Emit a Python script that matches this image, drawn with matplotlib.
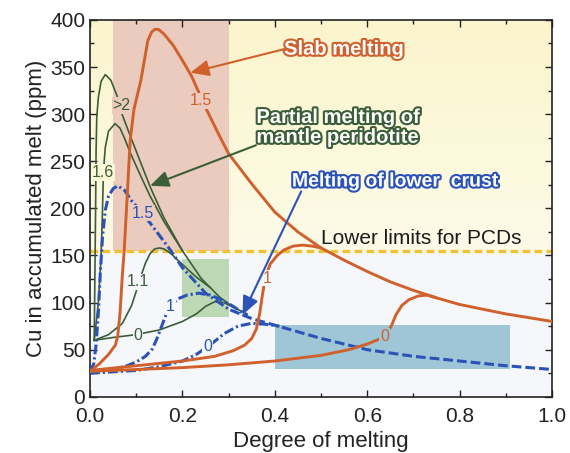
import matplotlib
matplotlib.use("Agg")
import matplotlib.pyplot as plt
import matplotlib.patheffects as pe
from matplotlib.colors import LinearSegmentedColormap
import numpy as np

plt.rcParams["font.family"] = ["Liberation Sans", "DejaVu Sans"]

ORANGE = "#d0612c"
GREEN = "#3b5e38"
BLUE = "#2b52b6"
GOLD = "#f0c232"
PINK_BG = "#eacbbd"
GREEN_BG = "#bcd8b4"
BLUE_BG = "#9fc6d6"
LOW_BG = "#f5f7fb"
HIGH_BG = "#fbf8d8"

# slab melting (orange)
slab15_x = [0, 0.02, 0.04, 0.055, 0.06, 0.065, 0.07, 0.074, 0.08, 0.087, 0.095, 0.11,
            0.125, 0.133, 0.14, 0.148, 0.16, 0.18, 0.2, 0.22, 0.25, 0.28, 0.3, 0.35, 0.4,
            0.45, 0.5, 0.55, 0.6, 0.65, 0.7, 0.75, 0.8, 0.85, 0.9, 0.95, 1.0]
slab15_y = [27, 35, 45, 55, 65, 90, 130, 156, 210, 273, 305, 336,
            378, 387, 390, 390, 385, 373, 357, 340, 307, 277, 258, 226, 196,
            175, 158, 145, 133, 122, 113, 105, 98, 93, 88, 84, 80]
slab1_x = [0, 0.1, 0.2, 0.27, 0.31, 0.335, 0.35, 0.36, 0.367, 0.373, 0.38, 0.39,
           0.405, 0.42, 0.44, 0.46, 0.48, 0.5]
slab1_y = [28, 33, 38, 43, 49, 55, 62, 72, 88, 108, 128, 141,
           150, 156, 160, 161, 160, 158]
slab0_x = [0, 0.1, 0.2, 0.3, 0.4, 0.5, 0.56, 0.6, 0.625, 0.64, 0.652, 0.662,
           0.675, 0.69, 0.71, 0.73, 0.75]
slab0_y = [27, 29, 31, 34, 38, 44, 50, 56, 61, 66, 75, 87,
           97, 103, 107, 108, 105]

# partial melting of mantle peridotite (green)
mant2_x = [0.009, 0.012, 0.013, 0.0145, 0.018, 0.024, 0.033, 0.045, 0.058, 0.07,
           0.087, 0.11, 0.13, 0.16, 0.2, 0.24, 0.26, 0.28, 0.31, 0.34]
mant2_y = [60, 200, 260, 297, 318, 335, 342, 336, 320, 299,
           277, 248, 223, 190, 155, 126, 116, 106, 95, 88]
mant16_x = [0.009, 0.018, 0.024, 0.027, 0.029, 0.033, 0.04, 0.054, 0.065, 0.075,
            0.087, 0.11, 0.13, 0.16, 0.2]
mant16_y = [60, 100, 150, 200, 240, 265, 282, 290, 285, 274,
            259, 234, 213, 186, 155]
mant11_x = [0.009, 0.04, 0.07, 0.09, 0.1, 0.11, 0.12, 0.13, 0.14, 0.15, 0.16,
            0.175, 0.19, 0.21, 0.23, 0.26]
mant11_y = [60, 66, 78, 97, 112, 128, 142, 152, 157, 158, 157,
            152, 145, 136, 127, 116]
mant0_x = [0.009, 0.05, 0.1, 0.15, 0.2, 0.23, 0.25, 0.27, 0.29, 0.31]
mant0_y = [60, 63, 66, 71, 80, 88, 96, 101, 100, 95]

# melting of lower crust (blue)
crust15_x = [0.0, 0.008, 0.013, 0.018, 0.022, 0.027, 0.033, 0.04, 0.05, 0.06, 0.075,
             0.09, 0.115, 0.14, 0.175, 0.2, 0.25, 0.3, 0.33]
crust15_y = [27, 35, 55, 90, 130, 170, 198, 213, 221, 224, 219,
             208, 194, 178, 155, 137, 110, 93, 87]
crust1_x = [0.0, 0.05, 0.08, 0.1, 0.12, 0.135, 0.145, 0.155, 0.165, 0.175, 0.19,
            0.21, 0.235, 0.26, 0.28, 0.31, 0.34]
crust1_y = [26, 29, 33, 37, 43, 51, 62, 75, 88, 97, 104,
            108, 110, 108, 104, 96, 86]
crust0_x = [0.0, 0.1, 0.15, 0.2, 0.23, 0.26, 0.29, 0.32, 0.35, 0.38, 0.41]
crust0_y = [25, 28, 32, 38, 45, 55, 67, 75, 78, 77, 75]
crust_tail_x = [0.33, 0.35, 0.4, 0.45, 0.5, 0.55, 0.6, 0.7, 0.8, 0.9, 1.0]
crust_tail_y = [87, 83, 76, 69, 62, 56, 50, 43, 38, 33, 29]

PCD_LIMIT = 155

fig = plt.figure(figsize=(5.7, 4.53), dpi=100)
ax = fig.add_axes([0.158, 0.124, 0.8105, 0.832])
ax.set_xlim(0, 1.0)
ax.set_ylim(0, 400)

# backgrounds
ax.axhspan(0, PCD_LIMIT, color=LOW_BG, zorder=0, lw=0)
grad = np.linspace(0, 1, 50).reshape(-1, 1)
cmap = LinearSegmentedColormap.from_list("bg", ["#fdfbe8", "#faf5cc"])
ax.imshow(grad, extent=[0, 1, PCD_LIMIT, 400], origin="lower", cmap=cmap,
          aspect="auto", zorder=0)
ax.add_patch(plt.Rectangle((0.05, PCD_LIMIT), 0.25, 400 - PCD_LIMIT, fc=PINK_BG, ec="none", zorder=1))
ax.add_patch(plt.Rectangle((0.2, 85), 0.1, 61, fc=GREEN_BG, ec="none", zorder=1))
ax.add_patch(plt.Rectangle((0.4, 30), 0.51, 46, fc=BLUE_BG, ec="none", zorder=1))

ax.axhline(PCD_LIMIT, color=GOLD, lw=2.4, dashes=(2.3, 1.3), zorder=2)

# curves
for xs, ys in [(slab15_x, slab15_y), (slab1_x, slab1_y), (slab0_x, slab0_y)]:
    ax.plot(xs, ys, color=ORANGE, lw=2.1, zorder=4, solid_capstyle="round")
for xs, ys in [(mant2_x, mant2_y), (mant16_x, mant16_y), (mant11_x, mant11_y), (mant0_x, mant0_y)]:
    ax.plot(xs, ys, color=GREEN, lw=1.2, zorder=3)
for xs, ys in [(crust15_x, crust15_y), (crust1_x, crust1_y), (crust0_x, crust0_y)]:
    ax.plot(xs, ys, color=BLUE, lw=2.2, dashes=(3.2, 1.0, 0.7, 1.0), zorder=3)
ax.plot(crust_tail_x, crust_tail_y, color=BLUE, lw=2.2, dashes=(3.2, 1.3), zorder=3)

# curve labels
def lab(x, y, s, color, bg):
    ax.text(x, y, s, color=color, fontsize=11.5, ha="center", va="center", zorder=5,
            bbox=dict(boxstyle="square,pad=0.05", fc=bg, ec="none"))

lab(0.24, 314, "1.5", ORANGE, PINK_BG)
lab(0.383, 126, "1", ORANGE, LOW_BG)
lab(0.637, 64, "0", ORANGE, BLUE_BG)
lab(0.068, 309, ">2", GREEN, PINK_BG)
lab(0.028, 238, "1.6", GREEN, HIGH_BG)
lab(0.104, 122, "1.1", GREEN, LOW_BG)
lab(0.104, 65, "0", GREEN, LOW_BG)
lab(0.115, 195, "1.5", BLUE, PINK_BG)
lab(0.174, 96, "1", BLUE, LOW_BG)
lab(0.254, 53, "0", BLUE, LOW_BG)

# annotations
def arrow(tail, head, color):
    ax.annotate("", xy=head, xytext=tail, zorder=6,
                arrowprops=dict(arrowstyle="-|>,head_length=0.8,head_width=0.35",
                                color=color, lw=1.5, shrinkA=0, shrinkB=0,
                                mutation_scale=14))

arrow((0.42, 369), (0.217, 344), ORANGE)
arrow((0.359, 267), (0.13, 224), GREEN)
arrow((0.457, 218), (0.33, 87), BLUE)

def outlined(x, y, s, color, size=14.5):
    ax.text(x, y, s, color="white", fontsize=size, fontweight="bold", ha="left",
            va="center", zorder=7, linespacing=1.05,
            path_effects=[pe.withStroke(linewidth=3, foreground=color)])

outlined(0.42, 369, "Slab melting", ORANGE)
outlined(0.36, 286, "Partial melting of\nmantle peridotite", GREEN)
outlined(0.437, 228, "Melting of lower  crust", BLUE, 14)
ax.text(0.5, 168, "Lower limits for PCDs", fontsize=15, color="#1a1a1a",
        ha="left", va="center", zorder=7)

# axes styling
ax.set_xticks(np.arange(0, 1.01, 0.2))
ax.set_xticks(np.arange(0, 1.01, 0.1), minor=True)
ax.set_yticks(np.arange(0, 401, 50))
ax.set_yticks(np.arange(0, 401, 25), minor=True)
ax.xaxis.set_major_formatter(matplotlib.ticker.FormatStrFormatter("%.1f"))
ax.tick_params(which="both", direction="in", top=True, right=True, width=1.0,
               colors="#222222", labelsize=15)
ax.tick_params(which="major", length=5)
ax.tick_params(which="minor", length=3)
ax.tick_params(axis="x", pad=7)
for sp in ax.spines.values():
    sp.set_linewidth(1.2)
    sp.set_color("#222222")
ax.set_xlabel("Degree of melting", fontsize=16, color="#222222", labelpad=4)
ax.set_ylabel("Cu in accumulated melt (ppm)", fontsize=16, color="#222222", labelpad=2)

fig.savefig("out.png", dpi=100)
